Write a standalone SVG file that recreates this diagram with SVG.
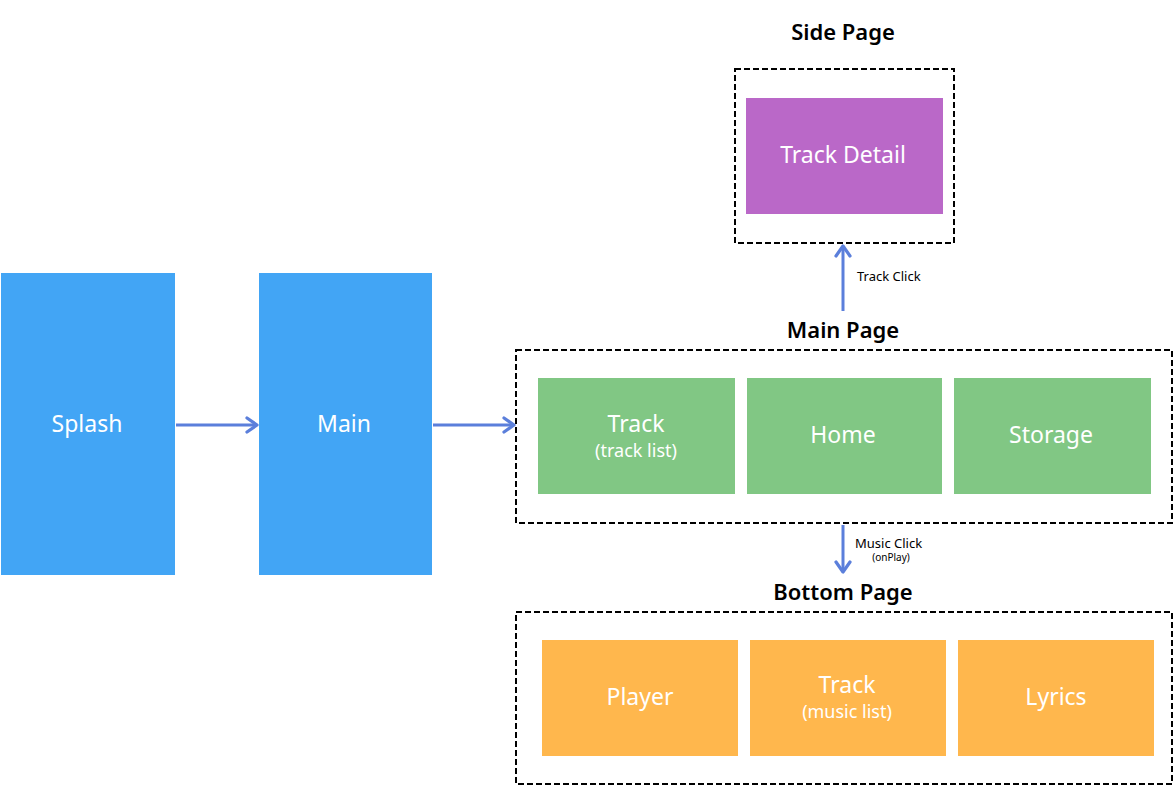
<svg xmlns="http://www.w3.org/2000/svg" width="1175" height="786" viewBox="0 0 1175 786">
<defs>
<marker id="ah" markerUnits="userSpaceOnUse" markerWidth="16" markerHeight="18" refX="13" refY="9" orient="auto">
<path d="M3,2 L13,9 L3,16" fill="none" stroke="#5B7FDB" stroke-width="3.2" stroke-linecap="round" stroke-linejoin="round"/>
</marker>
<style>
.lbl{font-family:"Noto Sans","Open Sans",sans-serif;fill:#fff;text-anchor:middle}
.big{font-size:23px}
.sub{font-size:18px}
.title{font-family:"Noto Sans","Open Sans",sans-serif;font-size:22px;font-weight:600;fill:#000;text-anchor:middle}
.frame{fill:none;stroke:#000;stroke-width:2;stroke-dasharray:6 3}
.blue{fill:#42A5F5}
.green{fill:#81C784}
.orange{fill:#FFB74D}
.purple{fill:#BA68C8}
.conn{stroke:#5B7FDB;stroke-width:3;fill:none}
.small{font-family:"Noto Sans","Open Sans",sans-serif;font-size:13px;fill:#000}
.tiny{font-family:"Noto Sans","Open Sans",sans-serif;font-size:10px;fill:#000}
</style>
</defs>
<rect width="1175" height="786" fill="#fff"/>
<g id="splash"><rect class="blue" x="1" y="273" width="174" height="302"/><text class="lbl big" x="87" y="432">Splash</text></g>
<g id="main"><rect class="blue" x="259" y="273" width="173" height="302"/><text class="lbl big" x="344" y="432">Main</text></g>
<g id="side-page"><text class="title" x="843" y="40">Side Page</text><rect class="frame" x="735" y="69" width="219" height="174"/></g>
<g id="track-detail"><rect class="purple" x="746" y="98" width="197" height="116"/><text class="lbl big" x="843" y="163">Track Detail</text></g>
<g id="main-page"><text class="title" x="843" y="338">Main Page</text><rect class="frame" x="516" y="350" width="656" height="173"/></g>
<g id="track"><rect class="green" x="538" y="378" width="197" height="116"/><text class="lbl big" x="636" y="432">Track</text><text class="lbl sub" x="636" y="457">(track list)</text></g>
<g id="home"><rect class="green" x="747" y="378" width="195" height="116"/><text class="lbl big" x="843" y="443">Home</text></g>
<g id="storage"><rect class="green" x="954" y="378" width="197" height="116"/><text class="lbl big" x="1051" y="443">Storage</text></g>
<g id="bottom-page"><text class="title" x="843" y="600">Bottom Page</text><rect class="frame" x="516" y="612" width="656" height="172"/></g>
<g id="player"><rect class="orange" x="542" y="640" width="196" height="116"/><text class="lbl big" x="640" y="705">Player</text></g>
<g id="track-music"><rect class="orange" x="750" y="640" width="196" height="116"/><text class="lbl big" x="847" y="693">Track</text><text class="lbl sub" x="847" y="718">(music list)</text></g>
<g id="lyrics"><rect class="orange" x="958" y="640" width="196" height="116"/><text class="lbl big" x="1056" y="705">Lyrics</text></g>
<g id="connectors">
<line class="conn" x1="176" y1="425" x2="257" y2="425" marker-end="url(#ah)"/>
<line class="conn" x1="433" y1="425" x2="514" y2="425" marker-end="url(#ah)"/>
<line class="conn" x1="843" y1="311" x2="843" y2="246" marker-end="url(#ah)"/>
<line class="conn" x1="843" y1="525" x2="843" y2="572" marker-end="url(#ah)"/>
<text class="small" x="857" y="281">Track Click</text>
<text class="small" x="855" y="548">Music Click</text>
<text class="tiny" x="891" y="561" text-anchor="middle">(onPlay)</text>
</g>
</svg>
